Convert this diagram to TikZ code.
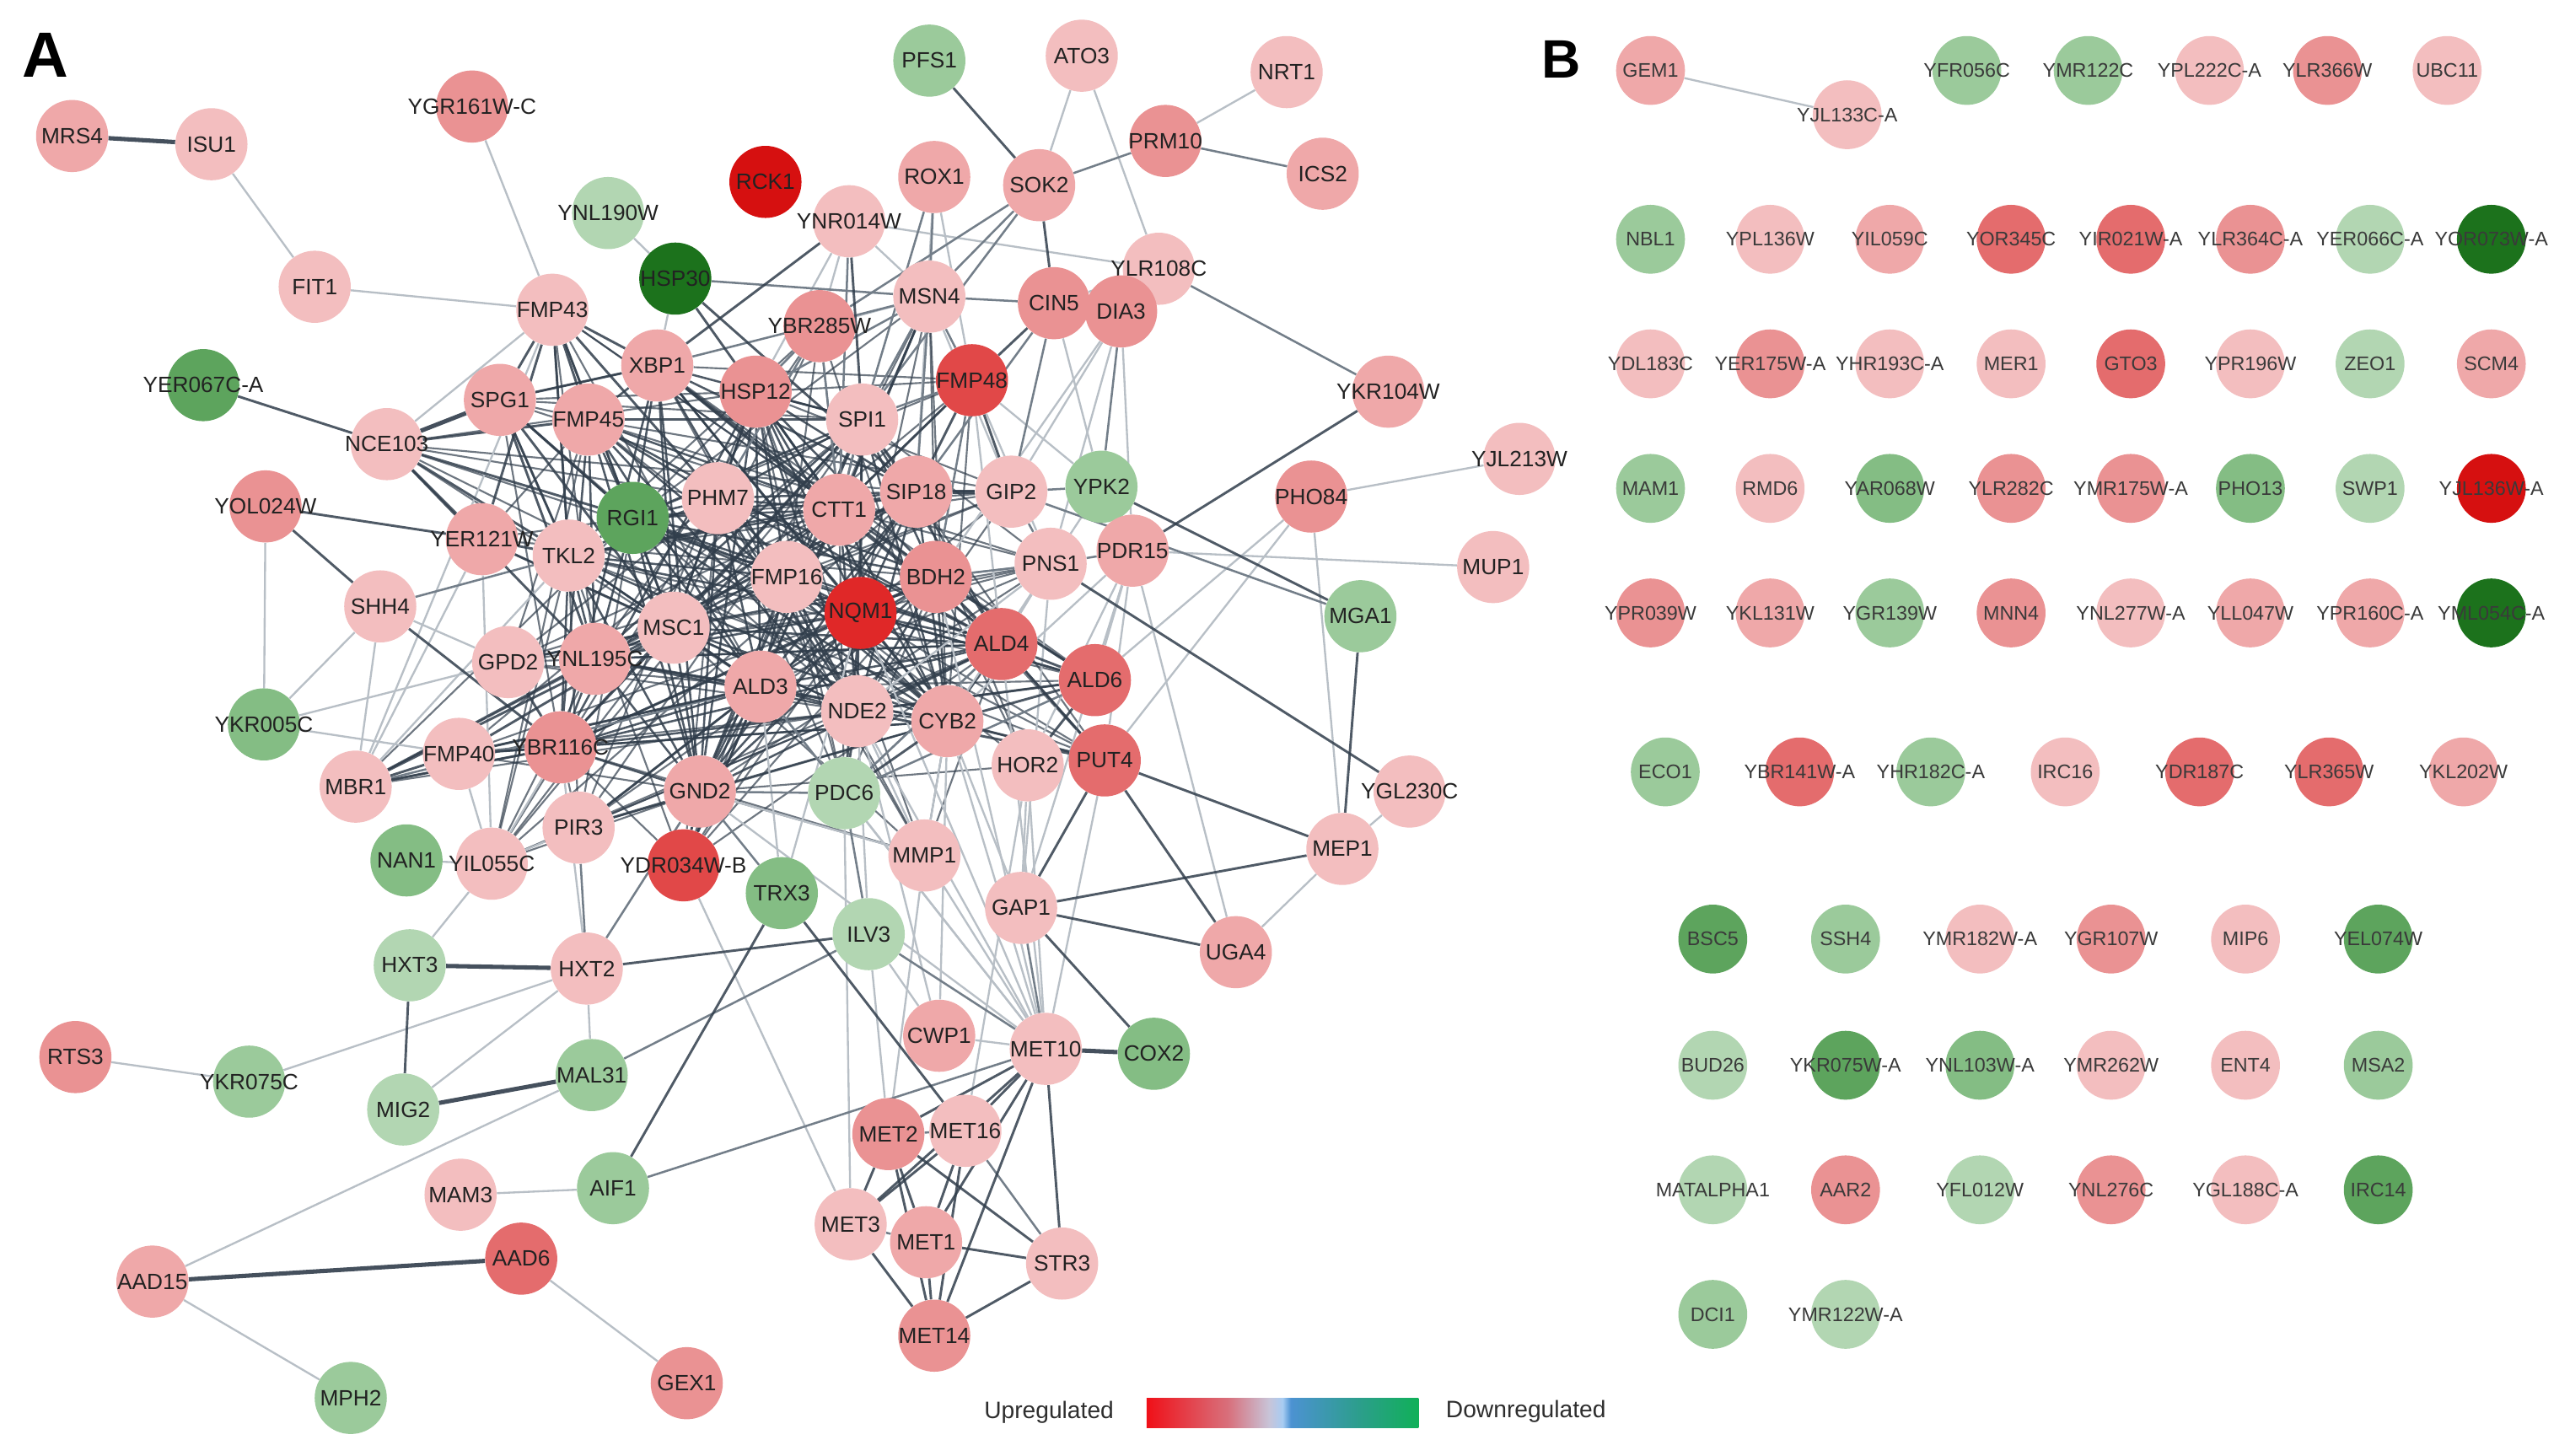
\documentclass[tikz,border=0pt]{standalone}
\usepackage{fontspec}
\setmainfont{Liberation Sans}
\pgfdeclarelayer{bgw}
\pgfdeclarelayer{edges}
\pgfsetlayers{bgw,edges,main}
\definecolor{r1}{HTML}{F3BEBF}
\definecolor{r2}{HTML}{EFA8A9}
\definecolor{r3}{HTML}{EA9293}
\definecolor{r4}{HTML}{E46C6D}
\definecolor{r5}{HTML}{E14848}
\definecolor{rq}{HTML}{E02828}
\definecolor{r6}{HTML}{D61010}
\definecolor{g1}{HTML}{B2D6B2}
\definecolor{g2}{HTML}{9BCA9B}
\definecolor{g3}{HTML}{84BD84}
\definecolor{g4}{HTML}{5DA45D}
\definecolor{g5}{HTML}{1C721C}
\definecolor{txtA}{HTML}{222222}
\definecolor{txtB}{HTML}{3A3A3A}
\definecolor{txtL}{HTML}{2E2E2E}
\definecolor{cDark}{HTML}{313E4C}
\definecolor{cMid}{HTML}{737E89}
\definecolor{cLight}{HTML}{B8BFC6}
\definecolor{legR}{HTML}{F01018}
\definecolor{legP}{HTML}{D8707C}
\definecolor{legG}{HTML}{C8C4D8}
\definecolor{legLB}{HTML}{A8CCF2}
\definecolor{legB}{HTML}{4C92D2}
\definecolor{legT}{HTML}{2C9E8C}
\definecolor{legGr}{HTML}{10B058}
\pgfdeclarehorizontalshading{updown}{100bp}{color(0bp)=(legR); color(25bp)=(legR); color(40bp)=(legP); color(47.5bp)=(legG); color(50bp)=(legLB); color(51.5bp)=(legB); color(64bp)=(legT); color(75bp)=(legGr); color(100bp)=(legGr)}
\newcommand\geneA[5][]{\node[nA,fill=#4,#1] (#2) at (#3) {\makebox[0pt]{#5}};}
\newcommand\geneB[4]{\node[nB,fill=#3] (#1) at (#2) {\makebox[0pt]{#4}};}
\begin{document}
\begin{tikzpicture}[x=1pt,y=-1pt,
  nA/.style={circle,minimum size=44pt,inner sep=0pt,text=txtA,font=\fontsize{13.5}{15}\selectfont},
  nB/.style={circle,minimum size=42pt,inner sep=0pt,text=txtB,font=\fontsize{12}{14}\selectfont},
  ed/.style={draw=cDark,line width=1.5pt,opacity=.85},
  et/.style={draw=cDark,line width=2.6pt,opacity=.9},
  em/.style={draw=cMid,line width=1.3pt},
  el/.style={draw=cLight,line width=1.2pt},
  ecore/.style={draw=cDark,line width=1.3pt,opacity=.85},
  eouter/.style={draw=cDark,line width=1.1pt,opacity=.7},
  panel/.style={font=\bfseries\fontsize{#1}{#1}\selectfont,inner sep=0pt},
  legtext/.style={font=\fontsize{14.5}{16}\selectfont,text=txtL,inner sep=0pt}
]
\begin{pgfonlayer}{bgw}
\fill[white] (0,0) rectangle (1568,888);
\end{pgfonlayer}
\useasboundingbox (0,0) rectangle (1568,888);

% ---------------- Panel A nodes ----------------
\node[panel=39] (labA) at (27.5,33.5) {A};
\geneA{MRS4}{44,83}{r2}{MRS4}
\geneA{ISU1}{129,88}{r1}{ISU1}
\geneA{YGR161WC}{288,65}{r3}{YGR161W-C}
\geneA{FIT1}{192,175}{r1}{FIT1}
\geneA{YNL190W}{371,130}{g1}{YNL190W}
\geneA{HSP30}{412,170}{g5}{HSP30}
\geneA{RCK1}{467,111}{r6}{RCK1}
\geneA{PFS1}{567,37}{g2}{PFS1}
\geneA{ATO3}{660,34}{r1}{ATO3}
\geneA{NRT1}{785,44}{r1}{NRT1}
\geneA{PRM10}{711,86}{r3}{PRM10}
\geneA{ICS2}{807,106}{r2}{ICS2}
\geneA{ROX1}{570,108}{r2}{ROX1}
\geneA{SOK2}{634,113}{r2}{SOK2}
\geneA{YNR014W}{518,135}{r1}{YNR014W}
\geneA{YLR108C}{707,164}{r1}{YLR108C}
\geneA{CIN5}{643,185}{r3}{CIN5}
\geneA{DIA3}{684,190}{r3}{DIA3}
\geneA[alias=c21]{FMP43}{337,189}{r1}{FMP43}
\geneA[alias=c24]{MSN4}{567,181}{r1}{MSN4}
\geneA[alias=c23]{YBR285W}{500,199}{r3}{YBR285W}
\geneA[alias=c1]{XBP1}{401,223}{r2}{XBP1}
\geneA[alias=c2]{HSP12}{461,239}{r3}{HSP12}
\geneA[alias=c25]{FMP48}{593,232}{r5}{FMP48}
\geneA{YER067CA}{124,235}{g4}{YER067C-A}
\geneA{YKR104W}{847,239}{r2}{YKR104W}
\geneA[alias=c22]{SPG1}{305,244}{r2}{SPG1}
\geneA[alias=c3]{FMP45}{359,256}{r2}{FMP45}
\geneA[alias=c37]{NCE103}{236,271}{r1}{NCE103}
\geneA[alias=c4]{SPI1}{526,256}{r1}{SPI1}
\geneA{YJL213W}{927,280}{r1}{YJL213W}
\geneA{YPK2}{672,297}{g2}{YPK2}
\geneA[alias=c26]{GIP2}{617,300}{r1}{GIP2}
\geneA[alias=c8]{SIP18}{559,300}{r2}{SIP18}
\geneA[alias=c6]{PHM7}{438,304}{r1}{PHM7}
\geneA[alias=c5]{RGI1}{386,316}{g4}{RGI1}
\geneA[alias=c7]{CTT1}{512,311}{r2}{CTT1}
\geneA{YOL024W}{162,309}{r3}{YOL024W}
\geneA[alias=c27]{YER121W}{294,329}{r2}{YER121W}
\geneA[alias=c9]{TKL2}{347,339}{r1}{TKL2}
\geneA{PHO84}{800,303}{r3}{PHO84}
\geneA{PDR15}{691,336}{r2}{PDR15}
\geneA[alias=c35]{PNS1}{641,344}{r1}{PNS1}
\geneA{MUP1}{911,346}{r1}{MUP1}
\geneA[alias=c12]{BDH2}{571,352}{r3}{BDH2}
\geneA[alias=c10]{FMP16}{480,352}{r1}{FMP16}
\geneA[alias=c11]{NQM1}{525,374}{rq}{NQM1}
\geneA{SHH4}{232,370}{r1}{SHH4}
\geneA[alias=c28]{GPD2}{310,404}{r1}{GPD2}
\geneA[alias=c13]{MSC1}{411,383}{r1}{MSC1}
\geneA[alias=c14]{YNL195C}{363,402}{r2}{YNL195C}
\geneA[alias=c20]{ALD4}{611,393}{r4}{ALD4}
\geneA{MGA1}{830,376}{g2}{MGA1}
\geneA[alias=c15]{ALD3}{464,419}{r2}{ALD3}
\geneA[alias=c16]{NDE2}{523,434}{r1}{NDE2}
\geneA[alias=c17]{CYB2}{578,440}{r2}{CYB2}
\geneA[alias=c34]{ALD6}{668,415}{r4}{ALD6}
\geneA{YKR005C}{161,442}{g3}{YKR005C}
\geneA[alias=c36]{MBR1}{217,480}{r1}{MBR1}
\geneA[alias=c29]{FMP40}{280,460}{r1}{FMP40}
\geneA[alias=c18]{YBR116C}{342,456}{r3}{YBR116C}
\geneA[alias=c32]{HOR2}{627,467}{r1}{HOR2}
\geneA[alias=c33]{PUT4}{674,464}{r4}{PUT4}
\geneA[alias=c19]{GND2}{427,483}{r2}{GND2}
\geneA[alias=c31]{PDC6}{515,484}{g1}{PDC6}
\geneA{YGL230C}{860,483}{r1}{YGL230C}
\geneA[alias=c30]{PIR3}{353,505}{r1}{PIR3}
\geneA{NAN1}{248,525}{g3}{NAN1}
\geneA[alias=c38]{YIL055C}{300,527}{r1}{YIL055C}
\geneA[alias=c39]{YDR034WB}{417,528}{r5}{YDR034W-B}
\geneA{TRX3}{477,545}{g3}{TRX3}
\geneA[alias=c40]{MMP1}{564,522}{r1}{MMP1}
\geneA{MEP1}{819,518}{r1}{MEP1}
\geneA{ILV3}{530,570}{g1}{ILV3}
\geneA{GAP1}{623,554}{r1}{GAP1}
\geneA{HXT3}{250,589}{g1}{HXT3}
\geneA{HXT2}{358,591}{r1}{HXT2}
\geneA{UGA4}{754,581}{r2}{UGA4}
\geneA{RTS3}{46,645}{r3}{RTS3}
\geneA{YKR075C}{152,660}{g2}{YKR075C}
\geneA{MAL31}{361,656}{g2}{MAL31}
\geneA{MIG2}{246,677}{g1}{MIG2}
\geneA{CWP1}{573,632}{r2}{CWP1}
\geneA{MET10}{638,640}{r1}{MET10}
\geneA{COX2}{704,643}{g3}{COX2}
\geneA{MET2}{542,692}{r3}{MET2}
\geneA{MET16}{589,690}{r1}{MET16}
\geneA{MAM3}{281,729}{r1}{MAM3}
\geneA{AIF1}{374,725}{g2}{AIF1}
\geneA{AAD6}{318,768}{r4}{AAD6}
\geneA{MET3}{519,747}{r1}{MET3}
\geneA{MET1}{565,758}{r2}{MET1}
\geneA{STR3}{648,771}{r1}{STR3}
\geneA{AAD15}{93,782}{r2}{AAD15}
\geneA{GEX1}{419,844}{r3}{GEX1}
\geneA{MET14}{570,815}{r3}{MET14}
\geneA{MPH2}{214,853}{g2}{MPH2}

% ---------------- Legend ----------------
\node[legtext] (lup) at (640,862) {Upregulated};
\node[inner sep=0pt,minimum width=166pt,minimum height=18pt,shading=updown] (lbar) at (782.5,862) {};
\node[legtext] (ldown) at (931,861.5) {Downregulated};

% ---------------- Panel B nodes ----------------
\node[panel=33] (labB) at (952.5,36) {B};
\geneB{GEM1}{1007,43}{r2}{GEM1}
\geneB{YJL133CA}{1127,70}{r1}{YJL133C-A}
\geneB{YFR056C}{1200,43}{g2}{YFR056C}
\geneB{YMR122C}{1274,43}{g2}{YMR122C}
\geneB{YPL222CA}{1348,43}{r1}{YPL222C-A}
\geneB{YLR366W}{1420,43}{r3}{YLR366W}
\geneB{UBC11}{1493,43}{r1}{UBC11}
\geneB{NBL1}{1007,146}{g2}{NBL1}
\geneB{YPL136W}{1080,146}{r1}{YPL136W}
\geneB{YIL059C}{1153,146}{r2}{YIL059C}
\geneB{YOR345C}{1227,146}{r4}{YOR345C}
\geneB{YIR021WA}{1300,146}{r4}{YIR021W-A}
\geneB{YLR364CA}{1373,146}{r3}{YLR364C-A}
\geneB{YER066CA}{1446,146}{g1}{YER066C-A}
\geneB{YOR073WA}{1520,146}{g5}{YOR073W-A}
\geneB{YDL183C}{1007,222}{r1}{YDL183C}
\geneB{YER175WA}{1080,222}{r3}{YER175W-A}
\geneB{YHR193CA}{1153,222}{r1}{YHR193C-A}
\geneB{MER1}{1227,222}{r1}{MER1}
\geneB{GTO3}{1300,222}{r4}{GTO3}
\geneB{YPR196W}{1373,222}{r1}{YPR196W}
\geneB{ZEO1}{1446,222}{g1}{ZEO1}
\geneB{SCM4}{1520,222}{r2}{SCM4}
\geneB{MAM1}{1007,298}{g2}{MAM1}
\geneB{RMD6}{1080,298}{r1}{RMD6}
\geneB{YAR068W}{1153,298}{g3}{YAR068W}
\geneB{YLR282C}{1227,298}{r3}{YLR282C}
\geneB{YMR175WA}{1300,298}{r3}{YMR175W-A}
\geneB{PHO13}{1373,298}{g3}{PHO13}
\geneB{SWP1}{1446,298}{g1}{SWP1}
\geneB{YJL136WA}{1520,298}{r6}{YJL136W-A}
\geneB{YPR039W}{1007,374}{r3}{YPR039W}
\geneB{YKL131W}{1080,374}{r2}{YKL131W}
\geneB{YGR139W}{1153,374}{g2}{YGR139W}
\geneB{MNN4}{1227,374}{r3}{MNN4}
\geneB{YNL277WA}{1300,374}{r1}{YNL277W-A}
\geneB{YLL047W}{1373,374}{r2}{YLL047W}
\geneB{YPR160CA}{1446,374}{r2}{YPR160C-A}
\geneB{YML054CA}{1520,374}{g5}{YML054C-A}
\geneB{ECO1}{1016,471}{g2}{ECO1}
\geneB{YBR141WA}{1098,471}{r4}{YBR141W-A}
\geneB{YHR182CA}{1178,471}{g2}{YHR182C-A}
\geneB{IRC16}{1260,471}{r1}{IRC16}
\geneB{YDR187C}{1342,471}{r4}{YDR187C}
\geneB{YLR365W}{1421,471}{r4}{YLR365W}
\geneB{YKL202W}{1503,471}{r2}{YKL202W}
\geneB{BSC5}{1045,573}{g4}{BSC5}
\geneB{SSH4}{1126,573}{g2}{SSH4}
\geneB{YMR182WA}{1208,573}{r1}{YMR182W-A}
\geneB{YGR107W}{1288,573}{r3}{YGR107W}
\geneB{MIP6}{1370,573}{r1}{MIP6}
\geneB{YEL074W}{1451,573}{g4}{YEL074W}
\geneB{BUD26}{1045,650}{g1}{BUD26}
\geneB{YKR075WA}{1126,650}{g4}{YKR075W-A}
\geneB{YNL103WA}{1208,650}{g3}{YNL103W-A}
\geneB{YMR262W}{1288,650}{r1}{YMR262W}
\geneB{ENT4}{1370,650}{r1}{ENT4}
\geneB{MSA2}{1451,650}{g2}{MSA2}
\geneB{MATALPHA1}{1045,726}{g1}{MATALPHA1}
\geneB{AAR2}{1126,726}{r3}{AAR2}
\geneB{YFL012W}{1208,726}{g1}{YFL012W}
\geneB{YNL276C}{1288,726}{r3}{YNL276C}
\geneB{YGL188CA}{1370,726}{r1}{YGL188C-A}
\geneB{IRC14}{1451,726}{g4}{IRC14}
\geneB{DCI1}{1045,802}{g2}{DCI1}
\geneB{YMR122WA}{1126,802}{g1}{YMR122W-A}

% ---------------- Edges (behind nodes) ----------------
\begin{pgfonlayer}{edges}
% dense core
\foreach \i in {1,...,19}{
  \pgfmathtruncatemacro\inext{\i+1}
  \foreach \j in {\inext,...,20}{
    \pgfmathtruncatemacro\hsh{mod(\i*\i*7+\j*\j*3+\i*\j*5+\i*17+\j*19,97)}
    \ifnum\hsh<74 \draw[ecore] (c\i) -- (c\j);\fi
  }
}
\foreach \i in {21,...,40}{
  \foreach \j in {1,...,20}{
    \pgfmathtruncatemacro\hsh{mod(\i*\i*3+\j*\j*5+\i*\j*7+\i*11+\j*13,97)}
    \ifnum\hsh<36 \draw[eouter] (c\i) -- (c\j);\fi
  }
}
% light edges
\foreach \a/\b in {ISU1/FIT1, FIT1/FMP43, YGR161WC/FMP43, NCE103/FMP43, YNL190W/HSP30, HSP30/XBP1,
  ATO3/SOK2, ATO3/YLR108C, NRT1/PRM10, ROX1/SIP18, ROX1/FMP48, YNR014W/YLR108C, YNR014W/MSN4,
  YNR014W/HSP12, YNR014W/YBR285W, YLR108C/CIN5, CIN5/YPK2, DIA3/PDR15, DIA3/GIP2, DIA3/PNS1,
  DIA3/BDH2, FMP48/PNS1, FMP48/ALD4, FMP48/YPK2, MSN4/YBR285W, MSN4/GIP2, YJL213W/PHO84,
  PHO84/ALD6, PHO84/PUT4, PHO84/MEP1, YPK2/CYB2, PDR15/MUP1, PDR15/UGA4, PDR15/ALD6, PDR15/PUT4,
  PDR15/HOR2, PDR15/CYB2, PDR15/GAP1, PNS1/GAP1, CYB2/GAP1, PNS1/ALD4, PNS1/NDE2, MEP1/YGL230C,
  MEP1/UGA4, GAP1/HOR2, MET10/NDE2, MET10/CYB2, MET10/HOR2, MET10/PDC6, MET10/MMP1, MET10/ALD3,
  MET10/NQM1, MET10/BDH2, MET10/ALD4, MET10/PUT4, MET10/GND2, CWP1/NDE2, CWP1/ILV3, CWP1/CYB2,
  CWP1/MET10, MET2/ILV3, MET3/PDC6, MET2/MMP1, MET16/HOR2, TRX3/ALD3, TRX3/NQM1, ILV3/NDE2,
  YDR034WB/MET3, MMP1/CYB2, MMP1/NDE2, MMP1/GND2, HXT3/YIL055C, HXT2/YKR075C, HXT2/MIG2,
  HXT2/MAL31, HXT2/YBR116C, RTS3/YKR075C, MAL31/AAD15, AAD15/MPH2, AAD6/GEX1, MAM3/AIF1,
  NAN1/YIL055C, YIL055C/YBR116C, YIL055C/FMP40, YIL055C/PIR3, YIL055C/YER121W, YOL024W/YKR005C,
  SHH4/YKR005C, SHH4/MBR1, SHH4/GPD2, YKR005C/GPD2, YKR005C/FMP40, MBR1/YER121W, MBR1/TKL2,
  MBR1/FMP43, GEM1/YJL133CA}
  \draw[el] (\a) -- (\b);
% medium edges
\foreach \a/\b in {HSP30/MSN4, PRM10/ICS2, PRM10/SOK2, SOK2/MSN4, SOK2/YBR285W, SOK2/SPI1,
  ROX1/MSN4, ROX1/SPI1, YNR014W/CTT1, YLR108C/YKR104W, CIN5/GIP2, CIN5/SIP18, MSN4/CIN5,
  DIA3/YPK2, FMP48/BDH2, FMP48/SPI1, MSN4/SPI1, MSN4/SIP18, MSN4/FMP48, MSN4/HSP12, MSN4/XBP1,
  YPK2/GIP2, GIP2/MGA1, GIP2/PNS1, PDR15/PNS1, PNS1/BDH2, GAP1/MET10, MET2/MET16, MET16/STR3,
  MET3/MET1, MET10/ILV3, AIF1/MET10, TRX3/GND2, ILV3/PDC6, MAL31/ILV3, HXT2/GND2, SHH4/TKL2,
  MBR1/ALD3, PDC6/GND2, PDC6/ALD4, PDC6/ALD6, PDC6/ALD3, HXT2/PIR3, YBR285W/CTT1, YBR285W/HSP12,
  YBR285W/PHM7, SPI1/CTT1}
  \draw[em] (\a) -- (\b);
% dark edges
\foreach \a/\b in {YER067CA/NCE103, NCE103/TKL2, NCE103/FMP45, NCE103/YER121W, NCE103/RGI1,
  NCE103/YNL195C, FMP43/SPG1, FMP43/FMP45, FMP43/XBP1, FMP43/TKL2, FMP43/YER121W, FMP43/PHM7,
  FMP43/MSC1, HSP30/CTT1, HSP30/SIP18, PFS1/SOK2, SOK2/CIN5, YNR014W/XBP1, YNR014W/SPI1,
  CIN5/FMP48, FMP48/SIP18, FMP48/GIP2, FMP48/CTT1, MSN4/CTT1, YKR104W/PDR15, YPK2/MGA1,
  PNS1/YGL230C, MGA1/MEP1, MEP1/PUT4, MEP1/GAP1, PUT4/UGA4, PUT4/GAP1, GAP1/UGA4, COX2/GAP1,
  MET10/MET2, MET10/MET16, MET10/MET3, MET10/MET1, MET10/MET14, MET10/STR3, MET2/MET1, MET2/MET3,
  MET2/MET14, MET2/STR3, MET16/MET3, MET16/MET1, MET16/MET14, MET3/MET14, MET1/STR3, MET1/MET14,
  MET14/STR3, TRX3/MET16, TRX3/AIF1, ILV3/HXT2, HXT3/MIG2, YOL024W/YER121W, YOL024W/SHH4,
  SHH4/YBR116C, MBR1/FMP40, MBR1/YBR116C, MBR1/MSC1, MBR1/YNL195C, PDC6/NDE2, PDC6/CYB2,
  PDC6/NQM1, SPG1/TKL2, SPG1/RGI1, SPG1/MSC1, SPG1/YNL195C, SPG1/XBP1, YER121W/TKL2,
  YER121W/MSC1, GPD2/YBR116C, GPD2/MSC1, FMP40/YBR116C, FMP40/ALD3, FMP40/MSC1, PIR3/GND2,
  PIR3/ALD3, YDR034WB/GND2, YDR034WB/ALD3, HOR2/ALD6, ALD6/ALD4, ALD6/NQM1, ALD6/BDH2,
  PUT4/ALD4, PUT4/CYB2, ALD6/NDE2, ALD6/CYB2, PUT4/NDE2}
  \draw[ed] (\a) -- (\b);
% thick edges
\foreach \a/\b in {MRS4/ISU1, HXT3/HXT2, MIG2/MAL31, AAD15/AAD6, NCE103/SPG1, GIP2/SIP18, MET10/COX2}
  \draw[et] (\a) -- (\b);
\end{pgfonlayer}
\end{tikzpicture}
\end{document}
